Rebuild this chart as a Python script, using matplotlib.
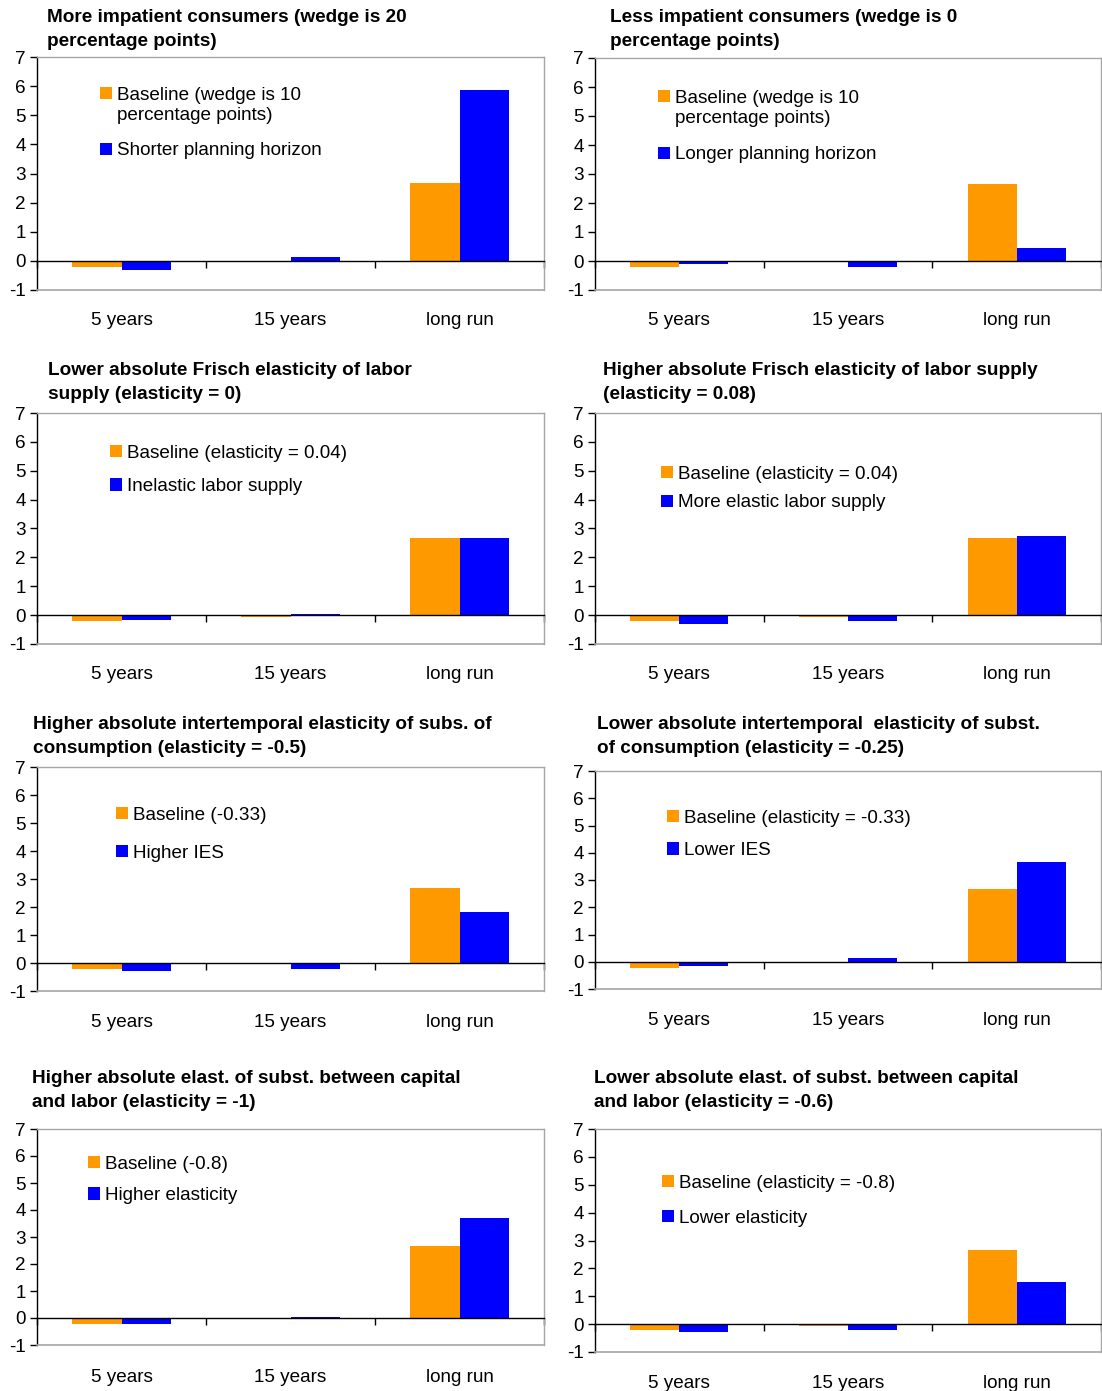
import matplotlib
matplotlib.use("Agg")
import matplotlib.pyplot as plt

plt.rcParams['font.family'] = ['Liberation Sans', 'DejaVu Sans']
plt.rcParams['axes.unicode_minus'] = False

# Horizons shown on every panel
categories = ["5 years", "15 years", "long run"]

# Baseline response (same model in every panel)
baseline = [-0.22, -0.05, 2.67]

# Alternative-scenario responses, one list per panel
alt_impatient = [-0.30, 0.14, 5.88]
alt_patient = [-0.12, -0.20, 0.45]
alt_inelastic = [-0.18, 0.05, 2.67]
alt_elastic = [-0.32, -0.22, 2.74]
alt_higher_ies = [-0.30, -0.20, 1.82]
alt_lower_ies = [-0.15, 0.12, 3.67]
alt_higher_kl = [-0.22, 0.05, 3.70]
alt_lower_kl = [-0.28, -0.20, 1.50]

titles = [
    "More impatient consumers (wedge is 20\npercentage points)",
    "Less impatient consumers (wedge is 0\npercentage points)",
    "Lower absolute Frisch elasticity of labor\nsupply (elasticity = 0)",
    "Higher absolute Frisch elasticity of labor supply\n(elasticity = 0.08)",
    "Higher absolute intertemporal elasticity of subs. of\nconsumption (elasticity = -0.5)",
    "Lower absolute intertemporal  elasticity of subst.\nof consumption (elasticity = -0.25)",
    "Higher absolute elast. of subst. between capital\nand labor (elasticity = -1)",
    "Lower absolute elast. of subst. between capital\nand labor (elasticity = -0.6)",
]
baseline_labels = [
    "Baseline (wedge is 10\npercentage points)",
    "Baseline (wedge is 10\npercentage points)",
    "Baseline (elasticity = 0.04)",
    "Baseline (elasticity = 0.04)",
    "Baseline (-0.33)",
    "Baseline (elasticity = -0.33)",
    "Baseline (-0.8)",
    "Baseline (elasticity = -0.8)",
]
alt_labels = [
    "Shorter planning horizon",
    "Longer planning horizon",
    "Inelastic labor supply",
    "More elastic labor supply",
    "Higher IES",
    "Lower IES",
    "Higher elasticity",
    "Lower elasticity",
]
alt_series = [alt_impatient, alt_patient, alt_inelastic, alt_elastic,
              alt_higher_ies, alt_lower_ies, alt_higher_kl, alt_lower_kl]

# Layout in pixels: axes box (left, top, right, bottom), title anchor,
# legend anchor and legend row spacing
W, H = 1102, 1391
axes_px = [(37, 57, 544, 290), (595, 58, 1101, 290),
           (37, 413, 544, 644), (595, 413, 1101, 644),
           (37, 767, 544, 991), (595, 771, 1101, 989),
           (37, 1129, 544, 1345), (595, 1129, 1101, 1352)]
title_px = [(47, 9), (610, 9), (48, 362), (603, 362),
            (33, 716), (597, 716), (32, 1070), (594, 1070)]
legend_px = [(100, 87), (658, 90), (110, 445), (661, 466),
             (116, 807), (667, 810), (88, 1156), (662, 1175)]
legend_spacing = [1.0, 1.05, 0.85, 0.6, 1.1, 0.8, 0.75, 0.95]

ORANGE = "#FF9900"
BLUE = "#0000FF"
GREY = "#A6A6A6"
FS = 13.6
FS_TITLE = 13.7
bar_w = 0.29

fig = plt.figure(figsize=(W / 100, H / 100), dpi=100)
fig.patch.set_facecolor("white")

xpos = list(range(len(categories)))

for i in range(8):
    l, t, r, b = axes_px[i]
    ax = fig.add_axes([l / W, 1 - b / H, (r - l) / W, (b - t) / H])
    xb = [x - bar_w / 2 for x in xpos]
    xa = [x + bar_w / 2 for x in xpos]
    h1 = ax.bar(xb, baseline, bar_w, color=ORANGE, linewidth=0, zorder=1)
    h2 = ax.bar(xa, alt_series[i], bar_w, color=BLUE, linewidth=0, zorder=1)

    ax.set_xlim(-0.5, 2.5)
    ax.set_ylim(-1, 7)
    ax.set_yticks(range(-1, 8))
    ax.tick_params(axis='y', direction='out', length=5, width=1,
                   labelsize=FS, pad=3, colors='black')

    # category axis crosses at zero, labels sit below the plot
    ax.spines['bottom'].set_position(('data', 0))
    ax.spines['bottom'].set_color('black')
    ax.spines['bottom'].set_linewidth(1)
    ax.spines['left'].set_color('black')
    ax.spines['left'].set_linewidth(1)
    for s in ('top', 'right'):
        ax.spines[s].set_color(GREY)
        ax.spines[s].set_linewidth(1)
    ax.axhline(-1, color=GREY, linewidth=1.2, zorder=3, clip_on=False)

    ax.set_xticks(xpos)
    ax.set_xticklabels(categories)
    ax.set_xticks([-0.5, 0.5, 1.5, 2.5], minor=True)
    ax.tick_params(axis='x', which='major', length=0, labelsize=FS, pad=36.5)
    ax.tick_params(axis='x', which='minor', length=5, width=1,
                   direction='out', color='black')

    lx, ly = legend_px[i]
    leg = ax.legend([h1, h2], [baseline_labels[i], alt_labels[i]],
                    loc='upper left', bbox_to_anchor=(lx / W, 1 - ly / H),
                    bbox_transform=fig.transFigure, frameon=False,
                    fontsize=FS, handlelength=0.62, handleheight=0.62,
                    handletextpad=0.3, labelspacing=legend_spacing[i],
                    borderpad=0, borderaxespad=0)
    # a two-line label keeps its marker level with the first line
    for column in leg._legend_handle_box.get_children():
        for row, text in zip(column.get_children(), leg.get_texts()):
            if "\n" in text.get_text():
                row.align = 'top'

    tx, ty = title_px[i]
    fig.text(tx / W, 1 - ty / H, titles[i], ha='left', va='top',
             fontsize=FS_TITLE, fontweight='bold', linespacing=1.57)

fig.savefig("out.png", dpi=100, facecolor="white")
